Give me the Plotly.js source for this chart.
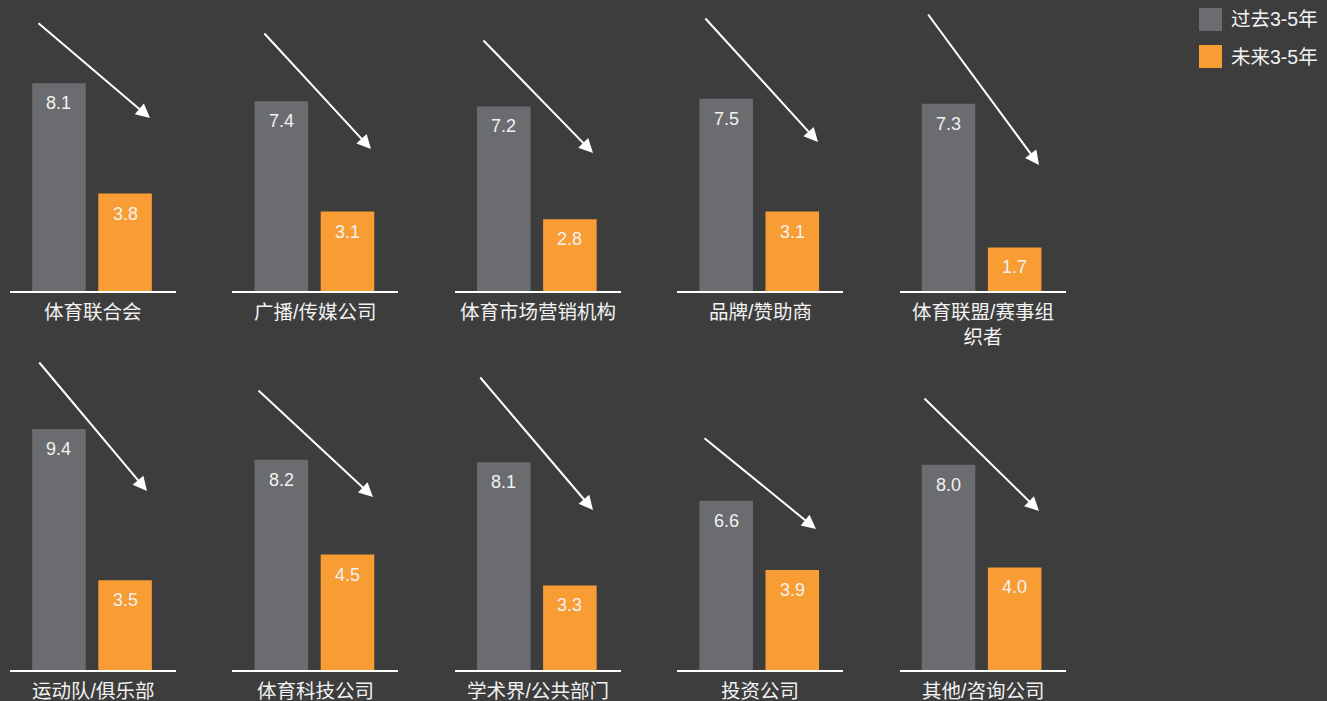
<!DOCTYPE html>
<html><head><meta charset="utf-8">
<script src="https://cdn.plot.ly/plotly-3.0.1.min.js"></script>
<style>html,body{margin:0;padding:0;background:#3d3d3d;}#chart{width:1327px;height:701px;}</style>
</head><body><div id="chart"></div>
<script>
// ---- data ----
const categories = ['体育联合会','广播/传媒公司','体育市场营销机构','品牌/赞助商','体育联盟/赛事组织者','运动队/俱乐部','体育科技公司','学术界/公共部门','投资公司','其他/咨询公司'];
const seriesNames = ['过去3-5年','未来3-5年'];
const past = [8.1, 7.4, 7.2, 7.5, 7.3, 9.4, 8.2, 8.1, 6.6, 8.0];
const future = [3.8, 3.1, 2.8, 3.1, 1.7, 3.5, 4.5, 3.3, 3.9, 4.0];

// ---- style / layout ----
const W = 1327, H = 701;
const BG = '#3d3d3d', GRAY = '#6b6c70', ORANGE = '#f89c34', TXT = '#f2f2f2';
const FONT = 'Liberation Sans, Arial, Noto Sans CJK SC, sans-serif';
const colX0 = 10, colStep = 222.4, panelW = 166;
const rowBase = [291, 670], panelH = 280, yMax = 10.92;
// decorative arrows (tail -> head) in page pixels
const arrows = [
  [37,22,150,118],[263,32,371,149],[482,39,593,153],[704,17,818,142],[927,13,1039,165],
  [38,361,147,491],[257,389,373,497],[479,376,593,510],[703,437,816,529],[923,397,1039,511]
];

function wrap(s, n){ const c=[...s]; const out=[]; for(let i=0;i<c.length;i+=n) out.push(c.slice(i,i+n).join('')); return out.join('<br>'); }

const traces = [];
const annotations = [];
const layout = {
  width: W, height: H, margin:{l:0,r:0,t:0,b:0},
  paper_bgcolor: BG, plot_bgcolor: BG,
  barmode: 'overlay', showlegend: false,
  font:{family: FONT, color: TXT},
  annotations, shapes: []
};

categories.forEach((cat, k) => {
  const s = k === 0 ? '' : String(k+1);
  const col = k % 5, row = Math.floor(k / 5);
  const x0 = colX0 + colStep*col, base = rowBase[row];
  layout['xaxis'+s] = {
    domain:[x0/W, (x0+panelW)/W], range:[-0.74, 1.77],
    showline:true, linecolor:'#ffffff', linewidth:2,
    showgrid:false, zeroline:false, showticklabels:false, ticks:'', fixedrange:true,
    anchor:'y'+s
  };
  layout['yaxis'+s] = {
    domain:[1-base/H, 1-(base-panelH)/H], range:[0, yMax],
    visible:false, fixedrange:true, anchor:'x'+s
  };
  [[past, GRAY, 0],[future, ORANGE, 1]].forEach(([arr, color, xi], j) => {
    traces.push({
      type:'bar', x:[xi], y:[arr[k]], width:[0.81], xaxis:'x'+s, yaxis:'y'+s,
      name: seriesNames[j], marker:{color}, hovertemplate: cat+'<br>'+seriesNames[j]+': %{y}<extra></extra>'
    });
    annotations.push({
      xref:'x'+s, yref:'y'+s, x:xi, y:arr[k], text: arr[k].toFixed(1),
      showarrow:false, yanchor:'middle', yshift:-20,
      font:{family:FONT, size:18, color:TXT}
    });
  });
  annotations.push({
    xref:'x'+s+' domain', yref:'y'+s+' domain', x:0.5, y:0, yanchor:'top', yshift:-8,
    text: wrap(cat, 8), showarrow:false, font:{family:FONT, size:19.5, color:TXT}
  });
  const a = arrows[k];
  annotations.push({
    xref:'paper', yref:'paper', x:a[2]/W, y:1-a[3]/H, axref:'pixel', ayref:'pixel',
    ax:a[0]-a[2], ay:a[1]-a[3], text:'', showarrow:true,
    arrowcolor:'#ffffff', arrowwidth:2, arrowhead:2, arrowsize:1.4
  });
});

// manual legend
const legendItems = [[8, GRAY],[45, ORANGE]];
legendItems.forEach(([top, color], j) => {
  layout.shapes.push({type:'rect', xref:'paper', yref:'paper', x0:1199/W, x1:1222/W, y0:1-(top+23)/H, y1:1-top/H, fillcolor:color, line:{width:0}});
  annotations.push({xref:'paper', yref:'paper', x:1229/W, y:1-(top+11.5)/H, xanchor:'left', yanchor:'middle',
    text: seriesNames[j], showarrow:false, font:{family:FONT, size:19.5, color:TXT}});
});

Plotly.newPlot('chart', traces, layout, {displayModeBar:false});
</script></body></html>
